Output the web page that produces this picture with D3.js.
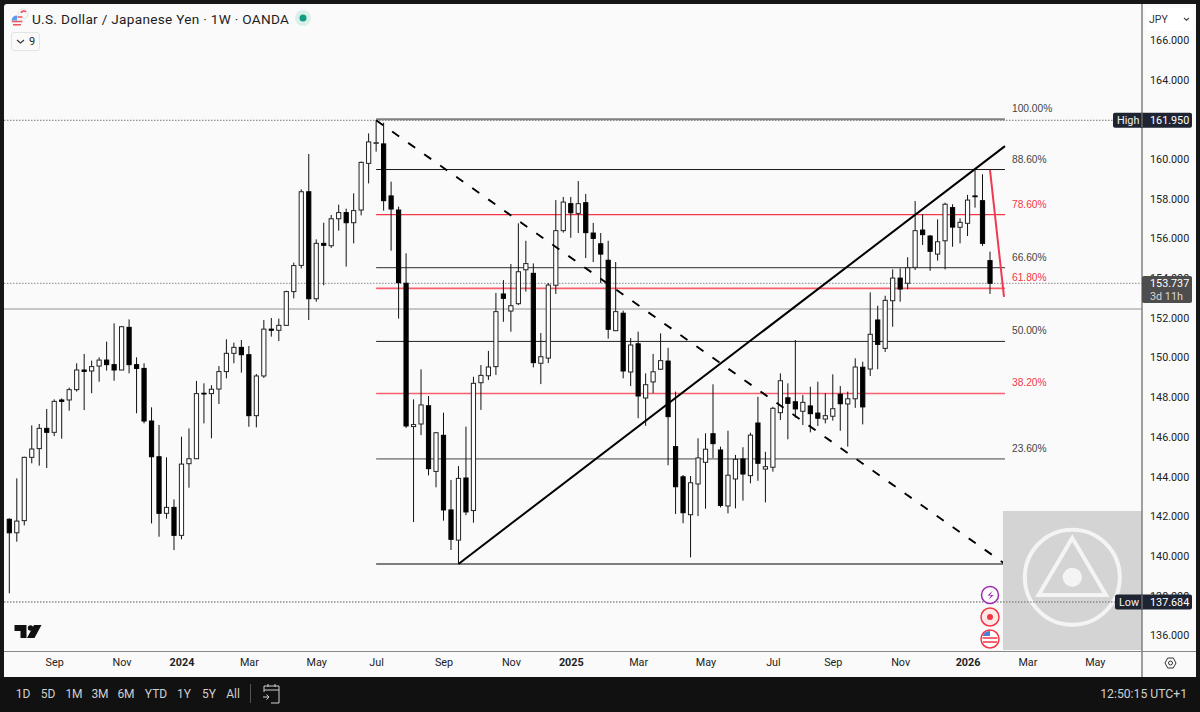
<!DOCTYPE html>
<html><head><meta charset="utf-8">
<script src="https://cdn.jsdelivr.net/npm/d3@7"></script>
<style>
html,body{margin:0;padding:0;background:#131313;overflow:hidden}
svg{display:block}
text{font-family:Roboto,"Noto Sans",sans-serif}
</style></head><body>
<svg id="c" width="1200" height="712"></svg>
<script>
const opens=[141.85,141.17,141.78,144.97,145.41,146.43,146.23,147.86,147.86,148.38,
149.37,149.32,149.57,149.87,149.64,149.37,151.52,149.64,149.45,146.80,
145.00,142.15,142.45,141.04,144.65,144.90,148.20,148.18,148.41,149.29,
150.21,150.51,150.14,147.07,149.07,151.43,151.37,151.62,153.32,154.64,
158.35,152.96,155.75,155.63,156.99,157.30,156.79,157.43,159.78,160.79,
160.76,158.14,157.43,153.74,146.52,146.65,147.57,144.26,146.08,142.32,
140.80,143.93,142.29,148.73,149.08,149.54,153.20,152.34,152.71,154.42,
154.24,149.71,149.97,153.64,156.39,157.75,157.26,157.80,156.27,155.73,
154.90,151.35,152.23,149.27,150.69,147.96,148.77,149.41,149.82,145.51,
143.99,142.08,143.63,144.72,146.16,145.34,142.52,143.88,144.89,144.05,
146.70,144.38,144.47,147.22,147.97,147.77,147.29,147.56,147.20,146.90,
147.04,148.15,147.66,147.92,149.51,149.42,151.89,150.46,152.86,154.00,
153.74,154.54,156.42,156.12,155.21,155.88,157.55,156.56,156.76,158.14,
157.90,154.88];
const highs=[141.90,143.91,145.00,146.58,146.65,147.41,147.89,147.94,148.48,149.71,
150.18,149.84,150.01,150.80,151.72,151.59,151.92,150.01,149.71,147.49,
146.60,144.97,142.85,146.01,146.43,148.82,148.70,148.60,149.57,150.92,
150.75,150.88,150.58,149.17,151.89,151.99,151.96,153.37,154.78,158.47,
160.25,155.95,156.79,157.18,157.70,157.50,158.27,159.87,161.29,161.95,
161.83,158.86,157.60,155.25,147.89,149.40,148.06,146.25,147.22,143.83,
144.53,146.52,149.03,149.62,150.33,153.25,153.90,154.71,156.76,155.88,
154.74,151.23,153.75,157.93,158.09,158.09,158.89,158.24,156.78,156.27,
155.88,154.81,152.36,150.98,151.30,149.20,150.18,151.22,150.49,148.28,
144.08,144.03,145.93,146.18,148.65,145.51,146.31,145.09,145.48,146.21,
148.02,145.25,147.52,149.20,148.70,150.88,148.11,148.53,148.78,148.20,
149.15,148.56,148.28,149.96,149.79,153.28,152.61,153.11,154.44,154.49,
155.05,157.88,157.21,156.17,156.96,157.80,157.72,157.01,158.19,159.45,
159.23,155.33];
const lows=[138.12,140.72,141.54,144.67,144.55,144.43,146.04,145.91,147.32,148.28,
147.35,148.20,148.78,149.34,148.83,149.37,149.20,147.19,146.68,141.64,
140.97,141.88,140.30,140.84,143.44,144.90,146.68,145.93,147.66,148.95,
149.71,149.24,146.51,146.48,148.97,151.05,150.83,151.59,152.98,154.49,
151.89,152.81,153.64,155.52,156.39,154.58,155.75,157.16,158.77,160.37,
157.40,155.38,151.96,146.45,141.71,146.09,144.06,143.46,141.78,140.30,
139.63,142.06,141.68,147.36,148.87,149.12,151.80,151.30,152.64,153.32,
149.50,148.66,149.72,153.20,156.29,156.03,156.27,155.01,154.81,153.75,
150.95,151.33,148.95,148.56,146.94,146.56,148.20,149.37,144.57,142.12,
141.65,139.93,142.01,142.38,144.94,142.45,142.15,142.40,142.79,143.66,
143.79,142.70,144.25,146.85,145.88,146.97,146.60,146.23,146.55,146.68,
146.82,146.31,145.51,147.46,146.63,149.07,149.41,150.28,151.55,152.81,
153.44,154.41,155.67,154.37,154.88,154.44,155.58,155.75,156.12,157.55,
155.62,153.20];
const closes=[141.17,141.76,144.97,145.39,146.43,146.23,147.79,147.79,148.38,149.37,
149.30,149.54,149.87,149.64,149.37,151.55,149.64,149.45,146.80,145.00,
142.15,142.45,141.04,144.63,144.90,148.18,148.16,148.40,149.29,150.21,
150.51,150.14,147.07,149.07,151.43,151.37,151.62,153.32,154.63,158.35,
152.96,155.75,155.65,156.99,157.30,156.79,157.40,159.83,160.86,160.82,
157.90,157.48,153.77,146.55,146.62,147.61,144.40,146.21,142.32,140.84,
143.91,142.22,148.70,149.10,149.52,152.31,152.98,152.61,154.32,154.73,
149.74,150.04,153.65,156.39,157.83,157.29,157.75,156.29,156.00,155.21,
151.42,152.31,149.32,150.63,148.06,148.63,149.28,149.84,147.02,143.49,
142.18,143.69,144.94,145.38,145.66,142.55,144.07,144.87,144.13,146.09,
144.67,144.50,147.44,148.83,147.69,147.41,147.74,147.17,146.94,147.07,
147.42,147.67,147.92,149.52,147.51,151.17,150.66,152.88,154.00,153.45,
154.52,156.39,156.19,155.35,155.83,157.72,156.57,156.81,157.93,158.10,
155.75,153.74];

const fibLabels=["100.00%","88.60%","78.60%","66.60%","61.80%","50.00%","38.20%","23.60%","0.00%"];
const fibPrices=[162.00,159.47,157.20,154.53,153.48,150.81,148.19,144.89,139.60];
const fibColors=["#808080","#1a1a1a","#f23645","#555555","#f7606c","#222222","#f7606c","#444444","#555555"];
const fibLabelColors=["#444444","#444444","#f23645","#444444","#f23645","#444444","#f23645","#444444","#444444"];
const fibWidths=[2,1,1.2,1.4,1.6,1,1.6,1,1.6];
const priceTicks=[166,164,162,160,158,156,154,152,150,148,146,144,142,140,138,136];
const timeIdx=[6,15,23,32,41,49,58,67,75,84,93,102,110,119,128,136,145];
const timeLabels=["Sep","Nov","2024","Mar","May","Jul","Sep","Nov","2025","Mar","May","Jul","Sep","Nov","2026","Mar","May"];
const rangeButtons=["1D","5D","1M","3M","6M","YTD","1Y","5Y","All"];
const highPrice=161.95, lowPrice=137.684, lastPrice=153.737, refPrice=152.44;
const fibStartIdx=49, fibEndIdx=133;
const trendLine=[[60,139.60],[133,160.65]];
const dashedLine=[[49,161.95],[133,139.60]];
const redLine=[[131,159.45],[132.87,153.05]];

const svg=d3.select("#c");
const x=d3.scaleLinear().domain([0,131]).range([9.3,990]);
const y=d3.scaleLinear().domain([160,140]).range([159,556]);
const plotL=4,plotR=1142,plotT=4,plotB=651;

svg.append("rect").attr("width",1200).attr("height",712).attr("fill","#161616");
svg.append("rect").attr("x",plotL).attr("y",plotT).attr("width",1192).attr("height",673).attr("rx",3).attr("fill","#fafafa");
svg.append("defs").append("clipPath").attr("id","plot").append("rect")
  .attr("x",plotL).attr("y",plotT).attr("width",plotR-plotL).attr("height",plotB-plotT);

const g=svg.append("g").attr("clip-path","url(#plot)");
function hline(p,x1,x2,stroke,w,dash){
  g.append("line").attr("x1",x1).attr("x2",x2).attr("y1",y(p)).attr("y2",y(p))
   .attr("stroke",stroke).attr("stroke-width",w).attr("stroke-dasharray",dash||null);
}
hline(highPrice,plotL,plotR,"#777",1,"1.5 1.5");
hline(lastPrice,plotL,plotR,"#888",1,"1.5 1.5");
hline(lowPrice,plotL,plotR,"#555",1,"1.5 1.5");
hline(refPrice,plotL,plotR,"#b4b4b4",1.4);

g.selectAll("line.fib").data(fibPrices).join("line").attr("class","fib")
 .attr("x1",x(fibStartIdx)).attr("x2",x(fibEndIdx))
 .attr("y1",d=>y(d)).attr("y2",d=>y(d))
 .attr("stroke",(d,i)=>fibColors[i]).attr("stroke-width",(d,i)=>fibWidths[i]);
g.selectAll("text.fibl").data(fibLabels).join("text").attr("class","fibl")
 .attr("x",x(fibEndIdx)+7).attr("y",(d,i)=>y(fibPrices[i])-7)
 .attr("fill",(d,i)=>fibLabelColors[i])
 .style("font-family","'Liberation Sans'").style("font-size","10.2px").text(d=>d);

const idx=d3.range(closes.length);
const cg=g.append("g");
cg.selectAll("line.w").data(idx).join("line").attr("class","w")
 .attr("x1",i=>x(i)).attr("x2",i=>x(i)).attr("y1",i=>y(highs[i])).attr("y2",i=>y(lows[i]))
 .attr("stroke","#111").attr("stroke-width",1);
cg.selectAll("rect.b").data(idx).join("rect").attr("class","b")
 .attr("x",i=>x(i)-2.1).attr("width",4.2)
 .attr("y",i=>y(Math.max(opens[i],closes[i])))
 .attr("height",i=>Math.max(0.6,Math.abs(y(opens[i])-y(closes[i]))))
 .attr("fill",i=>closes[i]>=opens[i]?"#ffffff":"#000000")
 .attr("stroke",i=>closes[i]>=opens[i]?"#222":"#000").attr("stroke-width",1);

const ln=d3.line().x(d=>x(d[0])).y(d=>y(d[1]));
g.append("path").attr("d",ln(dashedLine)).attr("fill","none").attr("stroke","#000").attr("stroke-width",1.9).attr("stroke-dasharray","8.6 11");
g.append("path").attr("d",ln(trendLine)).attr("fill","none").attr("stroke","#000").attr("stroke-width",2);
g.append("path").attr("d",ln(redLine)).attr("fill","none").attr("stroke","#ee3a52").attr("stroke-width",2);

const wm=svg.append("g");
wm.append("rect").attr("x",1003).attr("y",511).attr("width",139).attr("height",139).attr("fill","#d4d4d4");
wm.append("circle").attr("cx",1072.3).attr("cy",577.3).attr("r",47.5).attr("fill","none").attr("stroke","#f4f4f4").attr("stroke-width",4);
wm.append("path").attr("d","M1072.3 538 L1106 595 L1038.6 595 Z").attr("fill","none").attr("stroke","#f4f4f4").attr("stroke-width",4);
wm.append("circle").attr("cx",1072.3).attr("cy",577.3).attr("r",9.6).attr("fill","#f4f4f4");
wm.append("line").attr("x1",1003).attr("x2",1115).attr("y1",y(lowPrice)).attr("y2",y(lowPrice)).attr("stroke","#666").attr("stroke-width",1).attr("stroke-dasharray","1.5 1.5");

svg.append("rect").attr("x",1143).attr("y",4).attr("width",53).attr("height",673).attr("fill","#fafafa");
svg.append("rect").attr("x",4).attr("y",652).attr("width",1138).attr("height",25).attr("fill","#fafafa");
svg.append("line").attr("x1",1142).attr("x2",1142).attr("y1",4).attr("y2",677).attr("stroke","#777").attr("stroke-width",1.4);
svg.append("line").attr("x1",4).attr("x2",1196).attr("y1",651.5).attr("y2",651.5).attr("stroke","#888").attr("stroke-width",1.2);

const yAxis=d3.axisRight(y).tickValues(priceTicks).tickFormat(d3.format(".3f")).tickSize(0).tickPadding(0);
const ya=svg.append("g").attr("transform","translate(1150,0)").call(yAxis);
ya.select(".domain").remove();
ya.selectAll("text").style("font-family","Roboto").style("font-size","10.8px").attr("fill","#222");

const xAxis=d3.axisBottom(x).tickValues(timeIdx).tickFormat((d,i)=>timeLabels[i]).tickSize(0).tickPadding(0);
const xa=svg.append("g").attr("transform","translate(0,658)").call(xAxis);
xa.select(".domain").remove();
xa.selectAll("text").style("font-family","Roboto").style("font-size","10.8px").attr("fill","#222")
  .style("font-weight",(d,i)=>/^20/.test(timeLabels[i])?"700":"400");

function tag(xp,w,cy,h,fill){svg.append("rect").attr("x",xp).attr("y",cy-h/2).attr("width",w).attr("height",h).attr("rx",2).attr("fill",fill);}
function txt(xp,yp,t,fill,size,anchor,weight){return svg.append("text").attr("x",xp).attr("y",yp).attr("fill",fill).attr("text-anchor",anchor||"start").style("font-size",size+"px").style("font-weight",weight||400).text(t);}
tag(1113,79,y(highPrice),15,"#1f2433");
txt(1117,y(highPrice)+4,"High","#f0f0f0",10.8);
txt(1150,y(highPrice)+4,"161.950","#ffffff",10.8);
tag(1115,77,y(lowPrice),15,"#1f2433");
txt(1119,y(lowPrice)+4,"Low","#f0f0f0",10.8);
txt(1150,y(lowPrice)+4,"137.684","#ffffff",10.8);
tag(1142,50,289.5,27,"#4d4d4d");
txt(1150,287,"153.737","#ffffff",10.8);
txt(1150,300,"3d 11h","#d8d8d8",10.8);
svg.append("line").attr("x1",1142).attr("x2",1142).attr("y1",113).attr("y2",127).attr("stroke","#777").attr("stroke-width",1.2);
svg.append("line").attr("x1",1142).attr("x2",1142).attr("y1",595).attr("y2",609).attr("stroke","#777").attr("stroke-width",1.2);

svg.append("rect").attr("x",1146).attr("y",8).attr("width",47).attr("height",23).attr("rx",3).attr("fill","#ffffff");
txt(1149,23,"JPY","#333",10.5);
svg.append("path").attr("d","M1184 18 l2.5 2.2 l2.5 -2.2").attr("fill","none").attr("stroke","#444").attr("stroke-width",1.1);

svg.append("path").attr("d","M1165 663 l2.7 -5 h5.6 l2.7 5 l-2.7 5 h-5.6 Z").attr("fill","none").attr("stroke","#333").attr("stroke-width",1);
svg.append("circle").attr("cx",1170.5).attr("cy",663).attr("r",2).attr("fill","none").attr("stroke","#333").attr("stroke-width",1);

svg.append("circle").attr("cx",23).attr("cy",14).attr("r",5).attr("fill","#f7f7f7").attr("stroke","#e4e4e8").attr("stroke-width",1);
svg.append("path").attr("d","M21 13 a3 3 0 0 1 5 -1").attr("stroke","#f0525e").attr("stroke-width",1.6).attr("fill","none");
svg.append("circle").attr("cx",17).attr("cy",21).attr("r",5.5).attr("fill","#f4f4f4");
svg.append("path").attr("d","M11.6 20.5 a5.5 5.5 0 0 1 5.4 -5 v5 Z").attr("fill","#5b9cf0");
svg.append("path").attr("d","M17.5 17 h5 M11.8 21.5 h10.5 M13 24.8 h8").attr("stroke","#f0525e").attr("stroke-width",1.5).attr("fill","none");
txt(32,23.5,"U.S. Dollar  /  Japanese Yen · 1W · OANDA","#1d1d1d",13.6).style("letter-spacing","0.3px");
svg.append("circle").attr("cx",303).attr("cy",18).attr("r",8).attr("fill","#dbefea");
svg.append("circle").attr("cx",303).attr("cy",18).attr("r",3.5).attr("fill","#0f9d80");
svg.append("rect").attr("x",11.5).attr("y",32.5).attr("width",28).attr("height",18).attr("rx",2.5).attr("fill","#fafafa").attr("stroke","#e4e4e4").attr("stroke-width",1);
svg.append("path").attr("d","M17 40 l3.5 3 l3.5 -3").attr("fill","none").attr("stroke","#333").attr("stroke-width",1.1);
txt(29,45,"9","#222",11);

svg.append("path").attr("d","M14.5 625 h12 v13 h-6 v-7 h-6 Z M34 625 h7.5 l-7 13 h-7.5 Z").attr("fill","#111");
svg.append("circle").attr("cx",30.5).attr("cy",628).attr("r",2.7).attr("fill","#111");

svg.append("circle").attr("cx",990).attr("cy",595).attr("r",8.5).attr("fill","#fafafa").attr("stroke","#9c27b0").attr("stroke-width",1.5);
svg.append("path").attr("d","M992.5 591 l-5 4.6 h3.6 l-2.4 4 l5 -4.6 h-3.6 Z").attr("fill","#9c27b0");
svg.append("circle").attr("cx",990).attr("cy",617).attr("r",9).attr("fill","#fde8e8").attr("stroke","#f23645").attr("stroke-width",1.5);
svg.append("circle").attr("cx",990).attr("cy",617).attr("r",3).attr("fill","#f23645");
svg.append("circle").attr("cx",990).attr("cy",639).attr("r",9).attr("fill","#fff").attr("stroke","#f23645").attr("stroke-width",1.5);
svg.append("path").attr("d","M983 635 a8 8 0 0 1 7 -4 v5 h-7 Z").attr("fill","#4a7fd6");
svg.append("path").attr("d","M982.5 638 h15 M983 642 h14").attr("stroke","#f23645").attr("stroke-width",1.6);

svg.append("rect").attr("x",0).attr("y",677).attr("width",1200).attr("height",35).attr("fill","#111111");
const btnX=[23,48,74,100,126,156,184,209,233];
rangeButtons.forEach((b,i)=>txt(btnX[i],698,b,"#cfcfcf",12,"middle"));
svg.append("line").attr("x1",250.5).attr("x2",250.5).attr("y1",684).attr("y2",703).attr("stroke","#555");
svg.append("path").attr("d","M264 692 v-6 h15 v17 h-8 M264 690 h15 M268 684 v3 M275 684 v3 M263 697 h6 M266.5 694.5 l2.5 2.5 l-2.5 2.5").attr("fill","none").attr("stroke","#cfcfcf").attr("stroke-width",1);
txt(1187,698,"12:50:15 UTC+1","#cfcfcf",12.2,"end");
</script></body></html>
